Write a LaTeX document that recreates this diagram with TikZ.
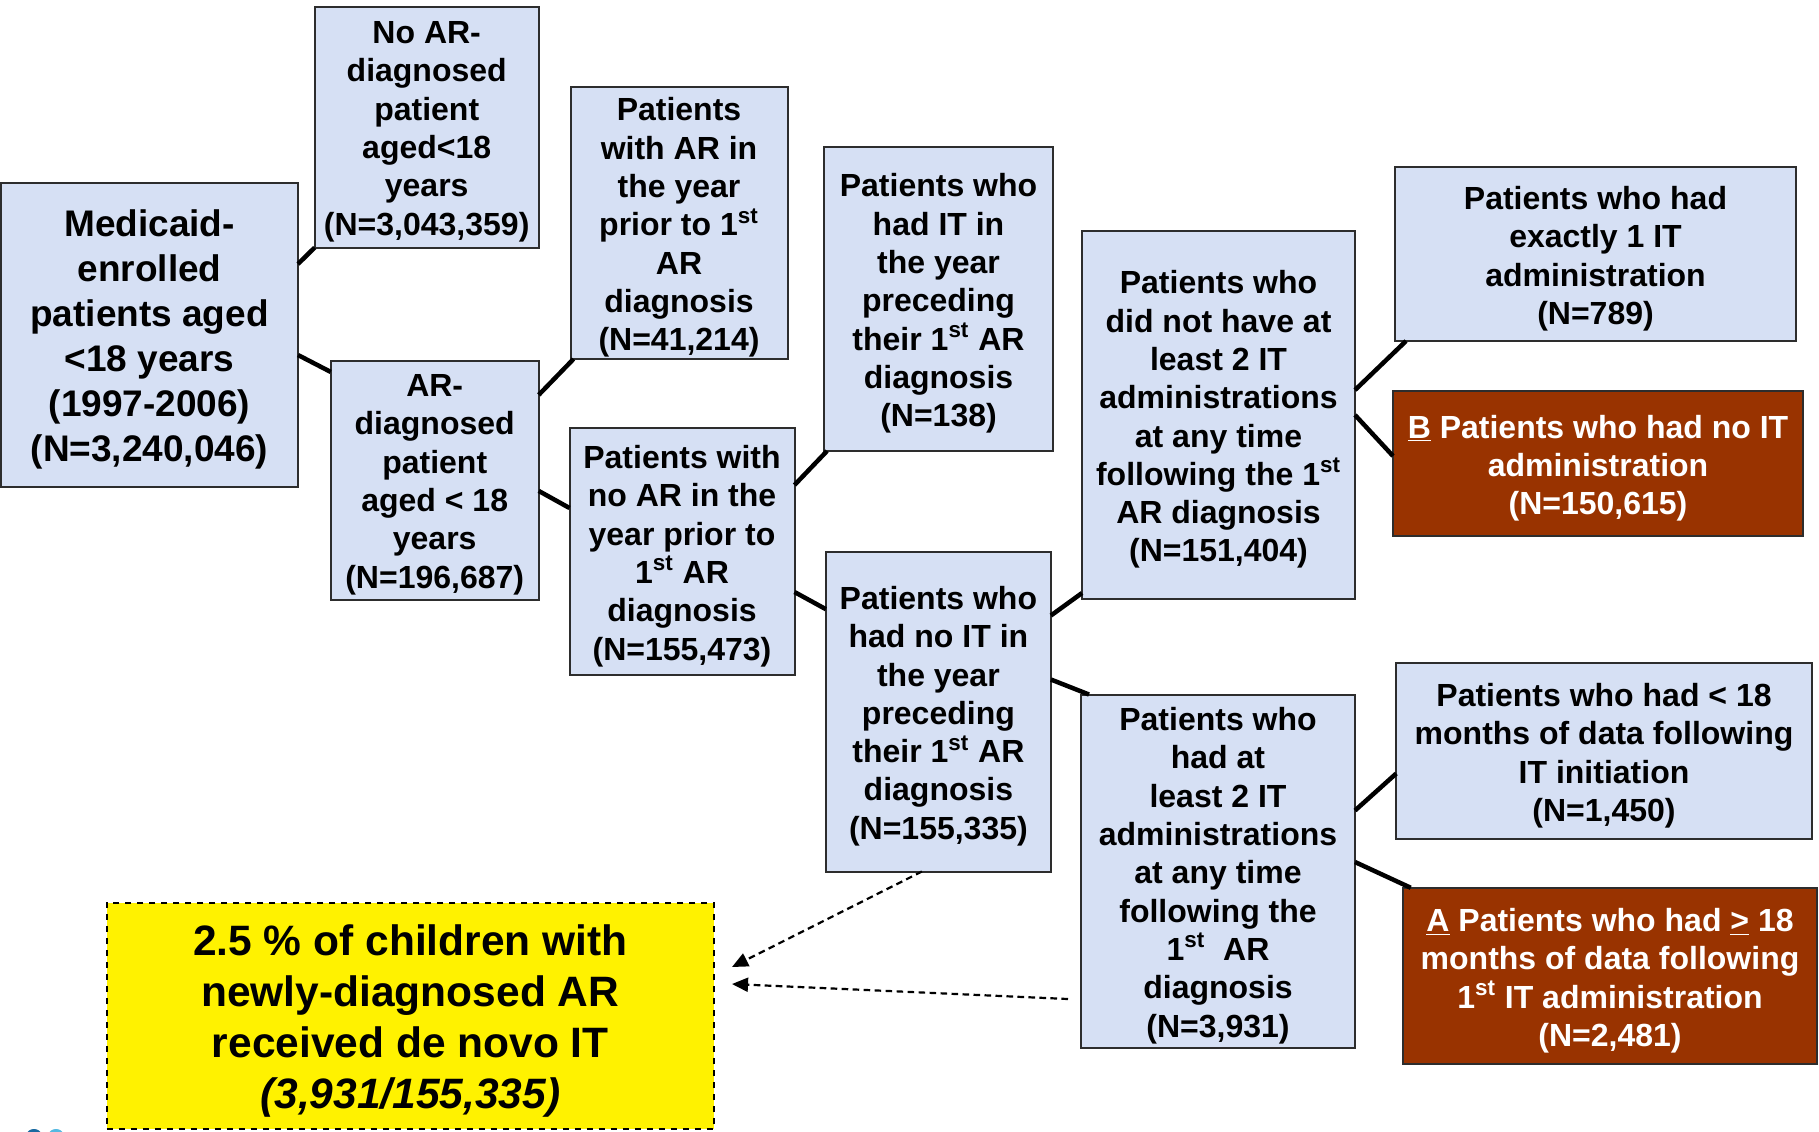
\documentclass[tikz,border=0pt]{standalone}
\usepackage{fontspec}
\setmainfont{Liberation Sans}
\usetikzlibrary{calc,arrows.meta}
\definecolor{boxblue}{RGB}{214,224,244}
\definecolor{boxbrown}{RGB}{153,51,0}
\definecolor{boxborder}{RGB}{45,45,45}
\definecolor{logodark}{RGB}{25,105,160}
\definecolor{logolight}{RGB}{85,185,225}
\tikzset{
  wh/.style 2 args={minimum width=#1*0.5pt, minimum height=#2*0.5pt},
  box/.style={draw=boxborder, line width=1pt, fill=boxblue, rectangle, inner sep=0pt, outer sep=0pt},
  brownbox/.style={box, fill=boxbrown},
  notebox/.style={draw=black, dashed, line width=0.9pt, fill=yellow, rectangle, inner sep=0pt, outer sep=0pt},
  txt/.style={align=center, inner sep=0pt, yshift=-2.3pt, font=\fontsize{16}{19.15}\selectfont\bfseries},
  whitetxt/.style={txt, text=white},
  bigtxt/.style={txt, font=\fontsize{18.5}{22.5}\selectfont\bfseries},
  notetxt/.style={txt, font=\fontsize{21.25}{25.5}\selectfont\bfseries},
  link/.style={line width=2.25pt, black},
  dasharrow/.style={line width=1.1pt, black, dash pattern=on 3.3pt off 2.2pt, -{Triangle[length=8pt,width=7pt]}}
}
\begin{document}
\begin{tikzpicture}[x=0.5pt, y=-0.5pt]
\useasboundingbox (0,0) rectangle (1819,1131);
\begin{scope}
\clip (0,0) rectangle (1819,1131);
\fill[logodark] (34,1134) ellipse [x radius=7, y radius=5];
\fill[logolight] (56,1134) ellipse [x radius=7, y radius=5];
\end{scope}

\node[box, wh={297}{304}, label={[bigtxt]center:{Medicaid-\\enrolled\\patients aged\\<18 years\\(1997-2006)\\(N=3,240,046)}}] (med) at (149.5,335) {};
\node[box, wh={224}{241}, label={[txt]center:{No AR-\\diagnosed\\patient\\aged<18\\years\\(N=3,043,359)}}] (noar) at (426.7,127) {};
\node[box, wh={208}{239}, label={[txt]center:{AR-\\diagnosed\\patient\\aged < 18\\years\\(N=196,687)}}] (ardiag) at (434.7,480) {};
\node[box, wh={217}{272}, label={[txt]center:{Patients\\with AR in\\the year\\prior to 1\textsuperscript{st}\\AR\\diagnosis\\(N=41,214)}}] (pwar) at (679,223) {};
\node[box, wh={225}{247}, label={[txt]center:{Patients with\\no AR in the\\year prior to\\1\textsuperscript{st} AR\\diagnosis\\(N=155,473)}}] (pnoar) at (682,551.5) {};
\node[box, wh={229}{304}, label={[txt]center:{Patients who\\had IT in\\the year\\preceding\\their 1\textsuperscript{st} AR\\diagnosis\\(N=138)}}] (hadit) at (938.5,299) {};
\node[box, wh={225}{320}, label={[txt]center:{Patients who\\had no IT in\\the year\\preceding\\their 1\textsuperscript{st} AR\\diagnosis\\(N=155,335)}}] (noit) at (938.4,711.5) {};
\node[box, wh={273}{368}, label={[txt]center:{Patients who\\did not have at\\least 2 IT\\administrations\\at any time\\following the 1\textsuperscript{st}\\AR diagnosis\\(N=151,404)}}] (didnot) at (1218.5,415) {};
\node[box, wh={274}{353}, label={[txt]center:{Patients who\\had at\\least 2 IT\\administrations\\at any time\\following the\\1\textsuperscript{st}\ \ AR\\diagnosis\\(N=3,931)}}] (atl2) at (1218,871) {};
\node[box, wh={401}{174}, label={[txt]center:{Patients who had\\exactly 1 IT\\administration\\(N=789)}}] (ex1) at (1595.5,254) {};
\node[brownbox, wh={410}{145}, label={[whitetxt]center:{\underline{B} Patients who had no IT\\administration\\(N=150,615)}}] (bnoit) at (1598,463.5) {};
\node[box, wh={415.5}{176.5}, label={[txt]center:{Patients who had < 18\\months of data following\\IT initiation\\(N=1,450)}}] (lt18) at (1604,751) {};
\node[brownbox, wh={414.6}{176.5}, label={[whitetxt]center:{\underline{A} Patients who had \underline{>} 18\\months of data following\\1\textsuperscript{st} IT administration\\(N=2,481)}}] (ge18) at (1610,976) {};
\node[notebox, wh={607.4}{226}, label={[notetxt]center:{2.5 \% of children with\\newly-diagnosed AR\\received de novo IT\\\textit{(3,931/155,335)}}}] (yel) at (410.3,1016) {};

\draw[link] ($(med.north east)+(0,81)$) -- (noar.south west);
\draw[link] ($(med.north east)+(0,172)$) -- ($(ardiag.north west)+(0,11.4)$);
\draw[link] ($(ardiag.north east)+(0,34.4)$) -- ($(pwar.south west)+(3,0)$);
\draw[link] ($(ardiag.north east)+(0,130.4)$) -- ($(pnoar.north west)+(0,80)$);
\draw[link] ($(pnoar.north east)+(0,57)$) -- ($(hadit.south west)+(3,0)$);
\draw[link] ($(pnoar.north east)+(0,164)$) -- ($(noit.north west)+(0,57.7)$);
\draw[link] ($(noit.north east)+(0,64)$) -- ($(didnot.south west)+(0,-6)$);
\draw[link] ($(noit.north east)+(0,128)$) -- ($(atl2.north west)+(8,0)$);
\draw[link] ($(didnot.north east)+(0,159)$) -- ($(ex1.south west)+(11,0)$);
\draw[link] ($(didnot.north east)+(0,184)$) -- ($(bnoit.north west)+(0,65)$);
\draw[link] ($(atl2.north east)+(0,116)$) -- ($(lt18.north west)+(0,110.7)$);
\draw[link] ($(atl2.north east)+(0,167.5)$) -- ($(ge18.north west)+(8,0)$);

\draw[dasharrow] ($(noit.south west)+(96,0)$) -- ($(yel.east)+(18,-49)$);
\draw[dasharrow] ($(atl2.north west)+(-13,304.5)$) -- ($(yel.east)+(18,-32)$);
\end{tikzpicture}
\end{document}
